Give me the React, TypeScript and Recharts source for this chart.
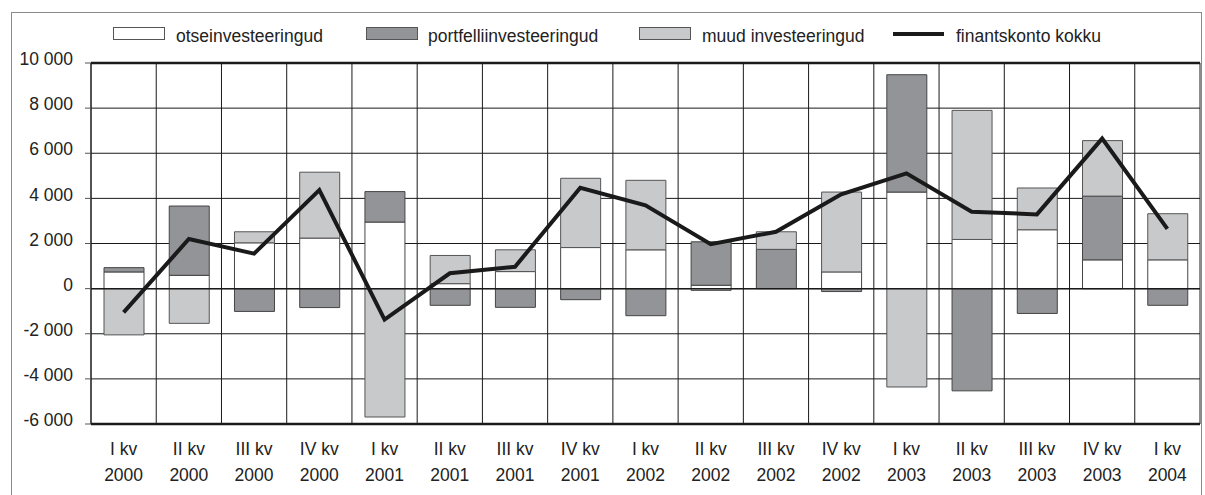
import { Bar, CartesianGrid, ComposedChart, Line, ReferenceLine, XAxis, YAxis } from "recharts";

// kvartalid
const quarters = ["I kv", "II kv", "III kv", "IV kv", "I kv", "II kv", "III kv", "IV kv", "I kv", "II kv", "III kv", "IV kv", "I kv", "II kv", "III kv", "IV kv", "I kv"];
const years = ["2000", "2000", "2000", "2000", "2001", "2001", "2001", "2001", "2002", "2002", "2002", "2002", "2003", "2003", "2003", "2003", "2004"];

// väärtused loetud pildilt
const otse = [740, 590, 2030, 2240, 2950, 220, 755, 1820, 1720, 150, 0, 740, 4280, 2180, 2610, 1275, 1275];
const portfelli = [190, 3070, -1010, -840, 1350, -740, -830, -490, -1200, 1925, 1740, -130, 5200, -4530, -1100, 2825, -740];
const muud = [-2050, -1540, 490, 2920, -5690, 1250, 965, 3070, 3080, -80, 780, 3540, -4360, 5720, 1850, 2460, 2045];
const kokku = [-1050, 2200, 1550, 4370, -1370, 680, 970, 4470, 3690, 1970, 2520, 4180, 5110, 3410, 3290, 6650, 2650];

const yTicks = [-6000, -4000, -2000, 0, 2000, 4000, 6000, 8000, 10000];

const data = quarters.map((q, i) => ({
  name: `${q} ${years[i]}`,
  q,
  year: years[i],
  otse: otse[i],
  portfelli: portfelli[i],
  muud: muud[i],
  kokku: kokku[i],
}));

const FONT = "'Liberation Sans', Arial, sans-serif";
const FS = 17.5;

function fmt(v: number) {
  const s = Math.abs(v).toString().replace(/\B(?=(\d{3})+(?!\d))/g, " ");
  return v < 0 ? "-" + s : s;
}

const XTick = (props: any) => {
  const { x, y, payload } = props;
  const d = data[payload.index];
  return (
    <g>
      <text x={x} y={y + 23} textAnchor="middle" fontSize={FS} fill="#222" fontFamily={FONT}>
        {d.q}
      </text>
      <text x={x} y={y + 49} textAnchor="middle" fontSize={FS} fill="#222" fontFamily={FONT}>
        {d.year}
      </text>
    </g>
  );
};

const legendItems = [
  { label: "otseinvesteeringud", fill: "#ffffff", left: 113, text: 176 },
  { label: "portfelliinvesteeringud", fill: "#939497", left: 366, text: 428 },
  { label: "muud investeeringud", fill: "#c8c9cb", left: 639, text: 702 },
];

export default function App() {
  return (
    <div style={{ position: "absolute", left: 0, top: 0, width: 1205, height: 495, background: "#fff", fontFamily: FONT }}>
      {/* välimine raam */}
      <div style={{ position: "absolute", left: 11, top: 12, width: 1189, height: 490, border: "1.5px solid #8a8a8a" }} />
      {/* legend */}
      {legendItems.map((it) => (
        <div key={it.label}>
          <div style={{ position: "absolute", left: it.left, top: 27, width: 50, height: 11, background: it.fill, border: "1px solid #555" }} />
          <div style={{ position: "absolute", left: it.text, top: 25, fontSize: FS, color: "#222", lineHeight: "22px" }}>{it.label}</div>
        </div>
      ))}
      <div style={{ position: "absolute", left: 893, top: 32, width: 51, height: 4, background: "#1a1a1a" }} />
      <div style={{ position: "absolute", left: 956, top: 25, fontSize: FS, color: "#222", lineHeight: "22px" }}>finantskonto kokku</div>

      <div style={{ position: "absolute", left: 0, top: 0 }}>
        <ComposedChart
          width={1205}
          height={495}
          data={data}
          stackOffset="sign"
          margin={{ top: 63, right: 5, bottom: 0, left: 0 }}
        >
          <CartesianGrid
            stroke="#1a1a1a"
            strokeWidth={1}
            verticalCoordinatesGenerator={({ offset }: any) =>
              data.map((_, i) => offset.left + ((i + 1) * offset.width) / data.length)
            }
          />
          <XAxis
            dataKey="name"
            height={71}
            tick={<XTick />}
            tickLine={false}
            axisLine={{ stroke: "#1a1a1a", strokeWidth: 2.5 }}
            interval={0}
          />
          <YAxis
            width={91}
            domain={[-6000, 10000]}
            ticks={yTicks}
            tickFormatter={fmt}
            tickSize={6}
            tickMargin={12}
            tickLine={{ stroke: "#555" }}
            axisLine={{ stroke: "#1a1a1a", strokeWidth: 1.5 }}
            tick={{ fontSize: FS, fill: "#222", fontFamily: FONT, dy: -4 }}
            allowDataOverflow
          />
          <ReferenceLine y={10000} stroke="#1a1a1a" strokeWidth={2.5} />
          <ReferenceLine y={0} stroke="#1a1a1a" strokeWidth={1.5} />
          <Bar dataKey="otse" stackId="a" fill="#ffffff" stroke="#444" strokeWidth={1} barSize={40} isAnimationActive={false} />
          <Bar dataKey="portfelli" stackId="a" fill="#939497" stroke="#444" strokeWidth={1} barSize={40} isAnimationActive={false} />
          <Bar dataKey="muud" stackId="a" fill="#c8c9cb" stroke="#555" strokeWidth={1} barSize={40} isAnimationActive={false} />
          <Line
            type="linear"
            dataKey="kokku"
            stroke="#1a1a1a"
            strokeWidth={4}
            dot={false}
            activeDot={false}
            isAnimationActive={false}
          />
        </ComposedChart>
      </div>
    </div>
  );
}
